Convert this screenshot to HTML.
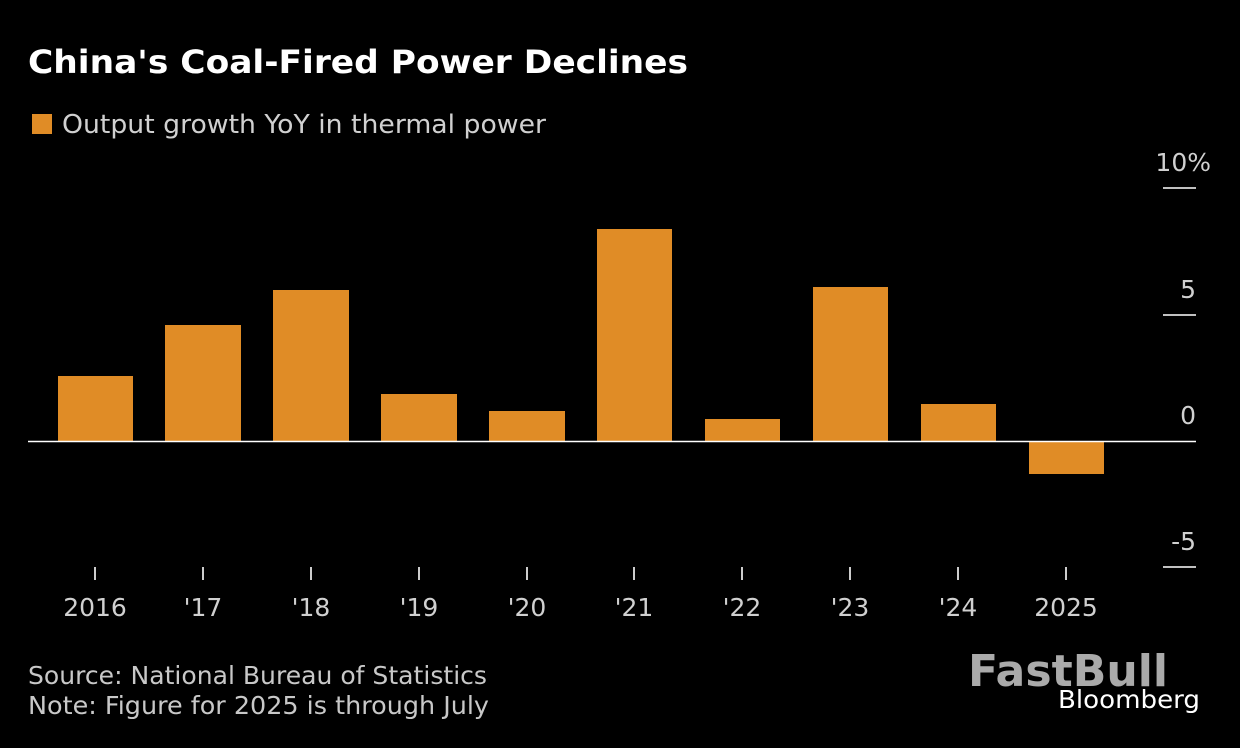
<!DOCTYPE html>
<html><head><style>
body{margin:0;background:#000;width:1240px;height:744px;overflow:hidden;font-family:"DejaVu Sans",sans-serif}
</style></head><body>
<svg width="1240" height="744" xmlns="http://www.w3.org/2000/svg" font-family="DejaVu Sans, sans-serif">
<rect width="1240" height="744" fill="#000"/>
<text x="28" y="73" fill="#fff" font-size="32" font-weight="bold" textLength="660" lengthAdjust="spacingAndGlyphs">China's Coal-Fired Power Declines</text>
<rect x="32" y="114" width="20" height="20" fill="#e08c26"/>
<text x="62" y="133" fill="#d0d0d0" font-size="26" textLength="484" lengthAdjust="spacingAndGlyphs">Output growth YoY in thermal power</text>
<g fill="#e08c26">
<rect x="58" y="376" width="75" height="65"/>
<rect x="165" y="325" width="76" height="116"/>
<rect x="273" y="290" width="76" height="151"/>
<rect x="381" y="394" width="76" height="47"/>
<rect x="489" y="411" width="76" height="30"/>
<rect x="597" y="229" width="75" height="212"/>
<rect x="705" y="419" width="75" height="22"/>
<rect x="813" y="287" width="75" height="154"/>
<rect x="921" y="404" width="75" height="37"/>
<rect x="1029" y="441" width="75" height="33"/>
</g>
<line x1="28" y1="441.5" x2="1196" y2="441.5" stroke="#fff" stroke-width="1.5"/>
<g stroke="#fff" stroke-width="1.5">
<line x1="1163" y1="188" x2="1196" y2="188"/>
<line x1="1163" y1="315" x2="1196" y2="315"/>
<line x1="1163" y1="567" x2="1196" y2="567"/>
</g>
<g fill="#d0d0d0" font-size="25" text-anchor="end">
<text x="1211" y="171">10%</text>
<text x="1196" y="298">5</text>
<text x="1196" y="424">0</text>
<text x="1196" y="550">-5</text>
</g>
<g stroke="#ccc" stroke-width="2">
<line x1="95" y1="567" x2="95" y2="580"/><line x1="203" y1="567" x2="203" y2="580"/>
<line x1="311" y1="567" x2="311" y2="580"/><line x1="419" y1="567" x2="419" y2="580"/>
<line x1="527" y1="567" x2="527" y2="580"/><line x1="634" y1="567" x2="634" y2="580"/>
<line x1="742" y1="567" x2="742" y2="580"/><line x1="850" y1="567" x2="850" y2="580"/>
<line x1="958" y1="567" x2="958" y2="580"/><line x1="1066" y1="567" x2="1066" y2="580"/>
</g>
<g fill="#d0d0d0" font-size="25" text-anchor="middle">
<text x="95" y="616">2016</text><text x="203" y="616">'17</text><text x="311" y="616">'18</text>
<text x="419" y="616">'19</text><text x="527" y="616">'20</text><text x="634" y="616">'21</text>
<text x="742" y="616">'22</text><text x="850" y="616">'23</text><text x="958" y="616">'24</text>
<text x="1066" y="616">2025</text>
</g>
<text x="28" y="684" fill="#c8c8c8" font-size="25" textLength="459" lengthAdjust="spacingAndGlyphs">Source: National Bureau of Statistics</text>
<text x="28" y="714" fill="#c8c8c8" font-size="25" textLength="461" lengthAdjust="spacingAndGlyphs">Note: Figure for 2025 is through July</text>
<text x="968" y="686" fill="#aaa" font-size="44" font-weight="bold" textLength="200" lengthAdjust="spacingAndGlyphs">FastBull</text>
<text x="1058" y="708" fill="#fff" font-size="25" textLength="142" lengthAdjust="spacingAndGlyphs">Bloomberg</text>
</svg>
</body></html>
